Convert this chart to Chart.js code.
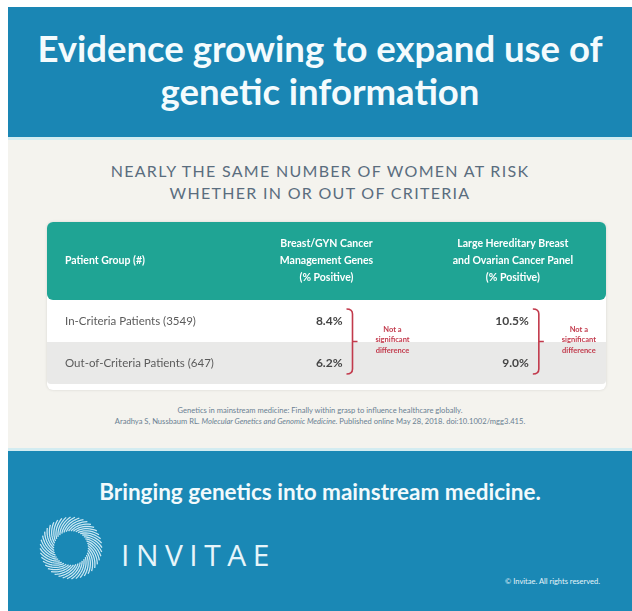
<!DOCTYPE html>
<html>
<head>
<meta charset="utf-8">
<script src="https://cdn.jsdelivr.net/npm/chart.js@4.4.1/dist/chart.umd.min.js"></script>
<style>
  html, body { margin: 0; padding: 0; background: #fff; }
  body { width: 632px; height: 611px; position: relative; overflow: hidden; font-family: Lato, "Open Sans", sans-serif; }
  .abs { position: absolute; }
  #top { left: 8px; top: 7px; width: 624px; height: 130px; background: #1a86b4; border-bottom: 3px solid #d3ecf1; }
  #title { left: 8px; top: 27px; width: 624px; text-align: center; color: #f4fbfd; font-size: 36.5px; font-weight: 700; line-height: 43px; }
  #mid { left: 8px; top: 140px; width: 624px; height: 308px; background: #f4f3ee; }
  #subtitle { left: 8px; top: 160px; width: 624px; text-align: center; color: #5a6d7e; font-size: 16px; letter-spacing: 1.3px; line-height: 22px; }
  #card { left: 47px; top: 222px; width: 559px; height: 168px; background: #fff; border-radius: 6px; box-shadow: 0 0 3px rgba(0,0,0,0.12); }
  #table { display: block; }
  #cite { left: 8px; top: 405px; width: 624px; text-align: center; color: #6a7f92; font-size: 7.6px; line-height: 11px; }
  #bottom { left: 8px; top: 448px; width: 624px; height: 163px; background: #1a88b5; border-top: 3px solid #d3ecf1; }
  #tagline { left: 8px; top: 478px; width: 624px; text-align: center; color: #f2fafc; font-size: 22.5px; font-weight: 700; }
  #brand { left: 121px; top: 534px; color: #e6f5fa; font-size: 30px; font-weight: 400; letter-spacing: 6.5px; font-family: "Open Sans", Lato, sans-serif; }
  #copy { left: 470px; top: 577px; width: 130px; text-align: right; color: #e6f5fa; font-size: 7.5px; }
</style>
</head>
<body>
<div id="top" class="abs"></div>
<div id="title" class="abs">Evidence growing to expand use of<br>genetic information</div>
<div id="mid" class="abs"></div>
<div id="subtitle" class="abs">NEARLY THE SAME NUMBER OF WOMEN AT RISK<br>WHETHER IN OR OUT OF CRITERIA</div>
<div id="card" class="abs"><canvas id="table" width="559" height="168"></canvas></div>
<div id="cite" class="abs">Genetics in mainstream medicine: Finally within grasp to influence healthcare globally.<br>Aradhya S, Nussbaum RL. <i>Molecular Genetics and Genomic Medicine</i>. Published online May 28, 2018. doi:10.1002/mgg3.415.</div>
<div id="bottom" class="abs"></div>
<div id="tagline" class="abs">Bringing genetics into mainstream medicine.</div>
<canvas id="logo" class="abs" width="70" height="70" style="left:36px;top:513px;"></canvas>
<div id="brand" class="abs">INVITAE</div>
<div id="copy" class="abs">© Invitae. All rights reserved.</div>

<script>
// table data
const columnKeys = ['group', 'gyn', 'panel'];
const columnHeaders = [
  ['Patient Group (#)'],
  ['Breast/GYN Cancer', 'Management Genes', '(% Positive)'],
  ['Large Hereditary Breast', 'and Ovarian Cancer Panel', '(% Positive)']
];
const patientGroups = ['In-Criteria Patients (3549)', 'Out-of-Criteria Patients (647)'];
const gynPositive = [8.4, 6.2];
const panelPositive = [10.5, 9.0];
const significanceNote = ['Not a', 'significant', 'difference'];

const TEAL = '#1fa494';
const RED = '#c23a4c';

function pointsFor(colKey, values) {
  return values.map((v, i) => ({ x: colKey, y: patientGroups[i], v: v }));
}

const tablePlugin = {
  id: 'tableCells',
  beforeDatasetsDraw(chart) {
    const ctx = chart.ctx;
    const area = chart.chartArea;
    const xs = chart.scales.x, ys = chart.scales.y;
    const bandH = area.height / patientGroups.length;
    ctx.save();

    // header band
    ctx.fillStyle = TEAL;
    ctx.beginPath();
    ctx.roundRect(area.left, 0, area.width, area.top, 6);
    ctx.fill();

    ctx.fillStyle = '#ffffff';
    ctx.textBaseline = 'middle';
    ctx.font = 'bold 10.5px Lato, "Open Sans", sans-serif';
    columnHeaders.forEach((lines, c) => {
      const cx = xs.getPixelForValue(c);
      const lh = 17;
      const y0 = area.top / 2 - (lines.length - 1) * lh / 2;
      lines.forEach((ln, k) => {
        if (c === 0) {
          ctx.textAlign = 'left';
          ctx.fillText(ln, area.left + 18, y0 + k * lh);
        } else {
          ctx.textAlign = 'center';
          ctx.fillText(ln, cx, y0 + k * lh);
        }
      });
    });

    // row bands + group labels
    patientGroups.forEach((g, i) => {
      const cy = ys.getPixelForValue(i);
      if (i % 2 === 1) {
        ctx.fillStyle = '#e9e9e8';
        ctx.beginPath();
        ctx.roundRect(area.left, cy - bandH / 2, area.width, bandH, [0, 0, 4, 4]);
        ctx.fill();
      }
      ctx.fillStyle = '#5b5b5b';
      ctx.textAlign = 'left';
      ctx.font = '11.5px Lato, "Open Sans", sans-serif';
      ctx.fillText(g, area.left + 18, cy);
    });
    ctx.restore();
  },
  afterDatasetsDraw(chart) {
    const ctx = chart.ctx;
    ctx.save();
    ctx.textBaseline = 'middle';
    chart.data.datasets.forEach((ds, d) => {
      const meta = chart.getDatasetMeta(d);
      const pts = meta.data;
      let right = 0;
      pts.forEach((p, i) => {
        const label = ds.data[i].v.toFixed(1) + '%';
        ctx.fillStyle = '#454545';
        ctx.font = 'bold 12px Lato, "Open Sans", sans-serif';
        ctx.textAlign = 'right';
        ctx.fillText(label, p.x + 16, p.y);
        right = p.x + 16;
      });
      // bracket spanning the rows
      const top = pts[0].y - 12;
      const bot = pts[pts.length - 1].y + 11;
      const bx = right + 10;
      const mid = (top + bot) / 2;
      ctx.strokeStyle = RED;
      ctx.lineWidth = 1.6;
      ctx.beginPath();
      ctx.moveTo(bx - 6, top);
      ctx.quadraticCurveTo(bx, top, bx, top + 5);
      ctx.lineTo(bx, bot - 5);
      ctx.quadraticCurveTo(bx, bot, bx - 6, bot);
      ctx.moveTo(bx, mid);
      ctx.lineTo(bx + 5, mid);
      ctx.stroke();
      ctx.fillStyle = RED;
      ctx.textAlign = 'center';
      ctx.font = 'bold 7.5px Lato, "Open Sans", sans-serif';
      significanceNote.forEach((t, k) => {
        ctx.fillText(t, bx + 40, mid - 12 + k * 10.5);
      });
    });
    ctx.restore();
  }
};

new Chart(document.getElementById('table'), {
  type: 'scatter',
  data: {
    datasets: [
      { label: 'Breast/GYN Cancer Management Genes', data: pointsFor('gyn', gynPositive), pointRadius: 0 },
      { label: 'Large Hereditary Breast and Ovarian Cancer Panel', data: pointsFor('panel', panelPositive), pointRadius: 0 }
    ]
  },
  options: {
    responsive: false,
    animation: false,
    devicePixelRatio: 1,
    layout: { padding: { top: 78, bottom: 6, left: 0, right: 0 } },
    plugins: { legend: { display: false }, tooltip: { enabled: false } },
    scales: {
      x: { type: 'category', labels: columnKeys, offset: true, display: false },
      y: { type: 'category', labels: patientGroups, offset: true, display: false }
    }
  },
  plugins: [tablePlugin]
});

// logo ring
(function() {
  const c = document.getElementById('logo');
  const g = c.getContext('2d');
  const cx = 35, cy = 35, rIn = 17, rOut = 31;
  g.strokeStyle = 'rgba(222,242,250,0.9)';
  g.lineWidth = 1.3;
  for (let i = 0; i < 44; i++) {
    const a = i / 44 * Math.PI * 2;
    g.beginPath();
    for (let s = 0; s <= 10; s++) {
      const t = s / 10;
      const r = rIn + (rOut - rIn) * t;
      const ang = a + t * 0.7;
      const px = cx + r * Math.cos(ang), py = cy + r * Math.sin(ang);
      if (s === 0) {g.moveTo(px, py);} else {g.lineTo(px, py);}
    }
    g.stroke();
  }
})();
</script>
</body>
</html>
